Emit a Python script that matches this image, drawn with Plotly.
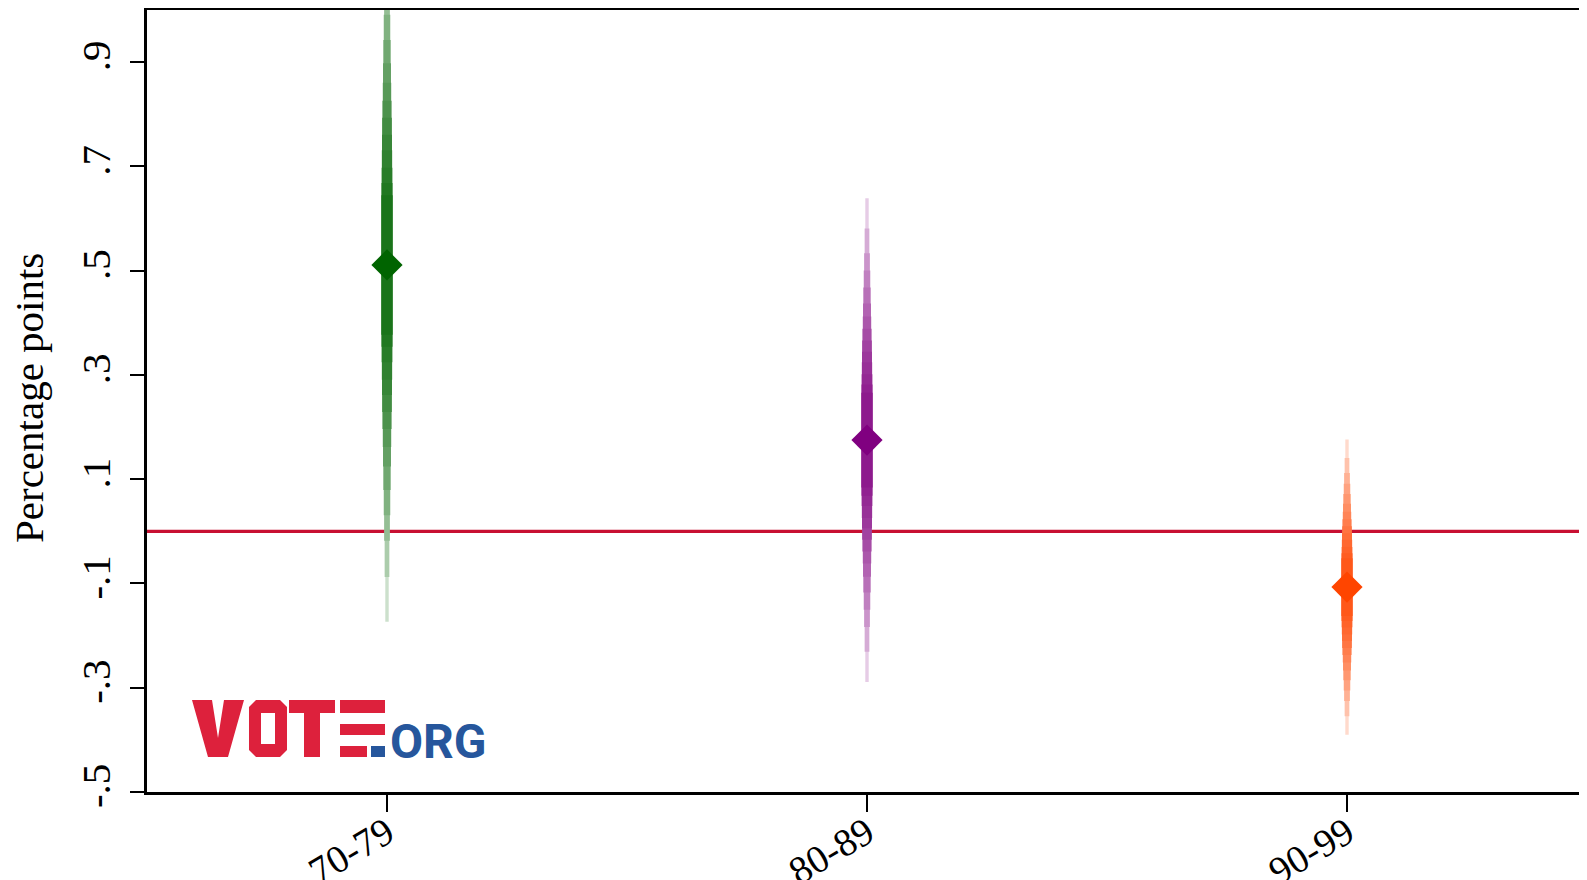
import plotly.graph_objects as go
from statistics import NormalDist

# ---------------- data ----------------
categories = ["70-79", "80-89", "90-99"]
estimates = [0.511, 0.175, -0.107]
std_errors = [0.208, 0.141, 0.086]
ci_levels = [99.9, 99.6, 98.9, 97.9, 96.2, 93.7, 90.7, 87.0, 82.5, 77.0, 71.0, 63.0, 55.0, 48.0]
base_colors = [(0, 100, 0), (128, 0, 128), (255, 69, 0)]
y_tick_vals = [-0.5, -0.3, -0.1, 0.1, 0.3, 0.5, 0.7, 0.9]
y_tick_text = ["-.5", "-.3", "-.1", ".1", ".3", ".5", ".7", ".9"]
y_title = "Percentage points"

# style per CI level (outermost first)
level_widths = [3.4, 4.7, 5.7, 6.5, 7.2, 7.9, 8.4, 9.0, 9.5, 9.9, 10.3, 10.6, 10.9, 11.2]
level_alphas = [0.2, 0.33, 0.42, 0.5, 0.56, 0.61, 0.66, 0.7, 0.74, 0.78, 0.81, 0.84, 0.87, 0.9]

# the page has an 8px body margin; compensate so the plot area lands where the reference has it
OFF = 8
W, H = 1587 - OFF, 880 - OFF
PL, PT, PR, PB = 147, 10, 1587, 792          # plot area in page pixels
ML, MT = PL - OFF, PT - OFF
MR = 0
MB = H - (PB - OFF)
PW, PH = PR - PL, PB - PT

def blend(rgb, a):
    return "rgb(%d,%d,%d)" % tuple(round(255 - a * (255 - c)) for c in rgb)

fig = go.Figure()
xs = [i + 1 for i in range(len(categories))]
for i, cat in enumerate(categories):
    for k, lev in enumerate(ci_levels):
        z = NormalDist().inv_cdf(0.5 + lev / 200.0)
        lo = estimates[i] - z * std_errors[i]
        hi = estimates[i] + z * std_errors[i]
        fig.add_trace(go.Scatter(
            x=[xs[i], xs[i]], y=[lo, hi], mode="lines",
            line=dict(color=blend(base_colors[i], level_alphas[k]), width=level_widths[k]),
            hoverinfo="skip", showlegend=False))
    fig.add_trace(go.Scatter(
        x=[xs[i]], y=[estimates[i]], mode="markers",
        marker=dict(symbol="diamond", size=24, color="rgb(%d,%d,%d)" % base_colors[i],
                    line=dict(width=0)),
        showlegend=False, name=cat))

# ---------------- logo (decoration), page pixel coords ----------------
def px(x):
    return (x - PL) / PW

def py(y):
    return (PB - y) / PH

RED = "rgb(221,33,60)"
BLUE = "rgb(38,86,156)"
shapes = []

def rect(x0, y0, x1, y1, color):
    shapes.append(dict(type="rect", xref="paper", yref="paper",
                       x0=px(x0), x1=px(x1), y0=py(y1), y1=py(y0),
                       fillcolor=color, line=dict(width=0), layer="above"))

def poly(points, color):
    path = "M " + " L ".join("%.6f,%.6f" % (px(a), py(b)) for a, b in points) + " Z"
    shapes.append(dict(type="path", xref="paper", yref="paper", path=path,
                       fillcolor=color, line=dict(width=0), layer="above"))

top, bot = 700, 757
mid1, mid2 = 713, 724
mid3, mid4 = 734, 746
# V
poly([(192, top), (212, top), (218, 738), (224, top), (244, top), (228, bot), (208, bot)], RED)
# O
b = 7
poly([(249 + b, top), (287 - b, top), (287, top + b), (287, bot - b), (287 - b, bot),
      (249 + b, bot), (249, bot - b), (249, top + b)], RED)
rect(261, 713, 275, 744, "white")
# T
rect(289, top, 335, mid1, RED)
rect(304, top, 320, bot, RED)
# E (stripes)
rect(340, top, 385, mid1, RED)
rect(340, mid2, 385, mid3 + 1, RED)
rect(340, mid4, 367, bot, RED)
rect(371, mid4, 385, bot, BLUE)

# zero line
shapes.append(dict(type="line", xref="paper", yref="y", x0=0, x1=1, y0=0, y1=0,
                   line=dict(color="rgb(200,16,50)", width=3.4), layer="below"))

fig.update_layout(
    width=W, height=H, autosize=False,
    margin=dict(l=ML, r=MR, t=MT, b=MB, pad=0),
    paper_bgcolor="white", plot_bgcolor="white",
    font=dict(family="Liberation Serif, Times New Roman, serif", color="black", size=37),
    shapes=shapes,
    annotations=[
        dict(text=y_title, xref="paper", yref="paper", x=px(29), y=py(398),
             xanchor="center", yanchor="middle", textangle=-90, showarrow=False,
             font=dict(size=41, family="Liberation Serif, serif", color="black")),
        dict(text="<b>ORG</b>", xref="paper", yref="paper", x=px(388), y=py(741),
             xanchor="left", yanchor="middle", showarrow=False,
             font=dict(size=48, family="Roboto, sans-serif", color=BLUE)),
    ],
)
fig.update_xaxes(
    range=[0.5, 3.5], tickvals=xs, ticktext=categories, tickangle=-31,
    showline=True, linecolor="black", linewidth=2.5, mirror=True,
    ticks="outside", ticklen=17, tickwidth=1.5, tickcolor="black", automargin=False,
    showgrid=False, zeroline=False, tickfont=dict(size=39), ticklabelstandoff=-17)
fig.update_yaxes(
    range=[-0.5, 1.0], tickvals=y_tick_vals, ticktext=y_tick_text, tickangle=-90,
    showline=True, linecolor="black", linewidth=2.5, mirror=False, automargin=False,
    ticks="outside", ticklen=14, tickwidth=1.5, tickcolor="black",
    showgrid=False, zeroline=False, tickfont=dict(size=41), ticklabelstandoff=4)

fig.write_html("out.html")
